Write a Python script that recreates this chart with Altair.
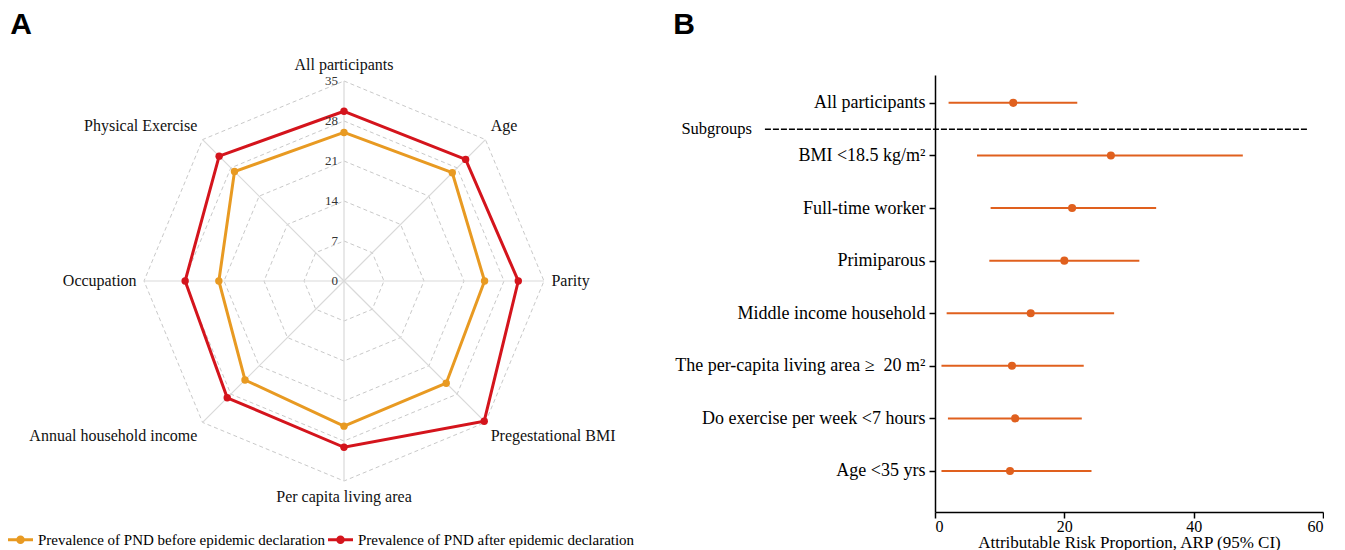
import json
import altair as alt
import pandas as pd

# ---------------- data ----------------
categories = ["All participants", "Age", "Parity", "Pregestational BMI",
              "Per capita living area", "Annual household income",
              "Occupation", "Physical Exercise"]
before_values = [26.0, 26.8, 24.6, 25.3, 25.4, 24.5, 21.9, 27.1]
after_values = [29.7, 30.1, 30.5, 34.7, 29.1, 28.9, 27.8, 30.9]
series_names = ["Prevalence of PND before epidemic declaration",
                "Prevalence of PND after epidemic declaration"]
series_colors = ["#E89A22", "#D4141C"]
radial_ticks = [0, 7, 14, 21, 28, 35]

subgroups = ["All participants", "BMI <18.5 kg/m\u00b2", "Full-time worker",
             "Primiparous", "Middle income household",
             "The per-capita living area \u2265\u00a0 20 m\u00b2",
             "Do exercise per week <7 hours", "Age <35 yrs"]
arp = [12.1, 27.2, 21.2, 20.0, 14.8, 11.9, 12.4, 11.6]
arp_low = [2.1, 6.5, 8.6, 8.4, 1.8, 1.0, 2.0, 1.0]
arp_high = [22.0, 47.6, 34.2, 31.6, 27.7, 23.0, 22.7, 24.2]
arp_ticks = [0, 20, 40, 60]

SERIF = "Liberation Serif"
SANS = "Liberation Sans"
FOREST = "#E0601E"

# ---------------- radar (panel A) ----------------
n = len(categories)
rows = []
for s, vals in zip(series_names, [before_values, after_values]):
    for i in range(n + 1):
        rows.append({"series": s, "idx": i % n, "order": i, "v": vals[i % n]})
radar_df = pd.DataFrame(rows)

grid_df = pd.DataFrame([{"ring": t, "idx": i % n, "order": i, "v": t}
                        for t in radial_ticks[1:] for i in range(n + 1)])
spoke_df = pd.DataFrame([{"idx": i, "v": r} for i in range(n)
                         for r in (0, radial_ticks[-1])])
label_df = pd.DataFrame({"cat": categories, "idx": list(range(n))})
tick_df = pd.DataFrame({"t": radial_ticks})

W_A, H_A = 660, 437
PX = 200 / 35.0
CX, CY = 336, 206
xsA = alt.Scale(domain=[-CX / PX, (W_A - CX) / PX], nice=False, zero=False)
ysA = alt.Scale(domain=[-(H_A - CY) / PX, CY / PX], nice=False, zero=False)

ANG = "datum.idx * PI / 4"


def polar(chart):
    return chart.transform_calculate(
        ang=ANG
    ).transform_calculate(
        px="datum.v * sin(datum.ang)", py="datum.v * cos(datum.ang)"
    )


X = alt.X("px:Q", scale=xsA, axis=None)
Y = alt.Y("py:Q", scale=ysA, axis=None)

grid = polar(alt.Chart(grid_df)).mark_line(
    color="#c9c9c9", strokeWidth=1, strokeDash=[4, 3]
).encode(x=X, y=Y, detail="ring:N", order="order:Q")

spokes = polar(alt.Chart(spoke_df)).mark_line(
    color="#d9d9d9", strokeWidth=1.2
).encode(x=X, y=Y, detail="idx:N")

color_scale = alt.Scale(domain=series_names, range=series_colors)
SYMBOL = ("M-1,-0.12L1,-0.12L1,0.12L-1,0.12Z "
          "M-0.34,0A0.34,0.34,0,1,1,0.34,0A0.34,0.34,0,1,1,-0.34,0Z")
legend = alt.Legend(
    orient="none", legendX=0, legendY=452, direction="horizontal",
    title=None, symbolType=SYMBOL, symbolSize=625,
    symbolStrokeWidth=0, symbolOpacity=1,
    labelFont=SERIF, labelFontSize=15, labelColor="black",
    labelOffset=5, columnPadding=3, labelLimit=0,
)
color_enc = alt.Color("series:N", scale=color_scale, legend=legend)

lines = polar(alt.Chart(radar_df)).mark_line(strokeWidth=3).encode(
    x=X, y=Y, detail="series:N", order="order:Q", color=color_enc,
)
points = polar(alt.Chart(radar_df)).transform_filter(
    "datum.order < 8"
).mark_point(filled=True, size=55, opacity=1).encode(
    x=X, y=Y, color=color_enc,
)

lab_base = alt.Chart(label_df).transform_calculate(
    ang=ANG
).transform_calculate(
    lx="36.3 * sin(datum.ang)",
    ly="36.3 * cos(datum.ang) + (cos(datum.ang) > 0.1 ? 1.5 : (cos(datum.ang) < -0.1 ? -1.5 : 0))",
    s="sin(datum.ang)",
)
LX = alt.X("lx:Q", scale=xsA, axis=None)
LY = alt.Y("ly:Q", scale=ysA, axis=None)
txt = dict(font=SERIF, fontSize=16, color="#111", baseline="middle")
lab_left = lab_base.transform_filter("datum.s > 0.1").mark_text(align="left", **txt).encode(x=LX, y=LY, text="cat:N")
lab_right = lab_base.transform_filter("datum.s < -0.1").mark_text(align="right", **txt).encode(x=LX, y=LY, text="cat:N")
lab_mid = lab_base.transform_filter("abs(datum.s) <= 0.1").mark_text(align="center", **txt).encode(x=LX, y=LY, text="cat:N")

tick_labels = alt.Chart(tick_df).transform_calculate(zero="0").mark_text(
    align="right", baseline="middle", dx=-6, font=SERIF, fontSize=13, color="#333"
).encode(x=alt.X("zero:Q", scale=xsA, axis=None),
         y=alt.Y("t:Q", scale=ysA, axis=None), text="t:Q")

panel_a_label = alt.Chart(pd.DataFrame({"t": ["A"]})).mark_text(
    font=SANS, fontSize=30, fontWeight="bold", color="black",
    align="center", baseline="middle"
).encode(x=alt.value(13), y=alt.value(-50), text="t:N")

radar = alt.layer(grid, spokes, lines, points, lab_left, lab_right, lab_mid,
                  tick_labels, panel_a_label).properties(width=W_A, height=H_A)

# ---------------- forest plot (panel B) ----------------
forest_df = pd.DataFrame({"label": subgroups, "idx": list(range(len(subgroups))),
                          "est": arp, "lo": arp_low, "hi": arp_high})
xsB = alt.Scale(domain=[arp_ticks[0], arp_ticks[-1]], nice=False, zero=False)
ysB = alt.Scale(domain=[-0.53, 7.78], reverse=True, nice=False, zero=False)
label_expr = json.dumps(subgroups, ensure_ascii=False) + "[datum.value]"

x_axis = alt.Axis(values=arp_ticks, title="Attributable Risk Proportion, ARP (95% CI)",
                  grid=False, domainColor="black", domainWidth=1.5,
                  tickColor="black", tickWidth=1.5, tickSize=6,
                  labelFont=SERIF, labelFontSize=16, labelColor="black",
                  titleFont=SERIF, titleFontSize=17, titleFontWeight="normal",
                  titleColor="black", titlePadding=0, labelPadding=0)
y_axis = alt.Axis(values=list(range(len(subgroups))), labelExpr=label_expr,
                  title=None, grid=False, domainColor="black", domainWidth=1.5,
                  tickColor="black", tickWidth=1.5, tickSize=6,
                  labelFont=SERIF, labelFontSize=18, labelColor="black",
                  labelPadding=4, labelLimit=0)

ci = alt.Chart(forest_df).mark_rule(color=FOREST, strokeWidth=2).encode(
    x=alt.X("lo:Q", scale=xsB, axis=x_axis), x2="hi:Q",
    y=alt.Y("idx:Q", scale=ysB, axis=y_axis))
est = alt.Chart(forest_df).mark_point(filled=True, size=65, color=FOREST, opacity=1).encode(
    x=alt.X("est:Q", scale=xsB), y=alt.Y("idx:Q", scale=ysB))

sep = alt.Chart(pd.DataFrame({"t": ["Subgroups"]})).mark_rule(
    color="black", strokeWidth=1.5, strokeDash=[6, 2]
).encode(x=alt.datum(-26.3), x2=alt.datum(57.8), y=alt.datum(0.5))
sep_text = alt.Chart(pd.DataFrame({"t": ["Subgroups"]})).mark_text(
    align="right", baseline="middle", font=SERIF, fontSize=16.5, color="black"
).encode(x=alt.datum(-28.3), y=alt.datum(0.5), text="t:N")

panel_b_label = alt.Chart(pd.DataFrame({"t": ["B"]})).mark_text(
    font=SANS, fontSize=30, fontWeight="bold", color="black",
    align="center", baseline="middle"
).encode(x=alt.value(-251), y=alt.value(-50), text="t:N")

forest = alt.layer(sep, ci, est, sep_text, panel_b_label).properties(width=388, height=437)

chart = alt.hconcat(radar, forest, spacing=5).properties(
    padding={"top": 2, "left": 0, "right": 0, "bottom": 0}
).configure_view(stroke=None)

chart.save("out.html", embed_options={"renderer": "svg", "actions": False})
